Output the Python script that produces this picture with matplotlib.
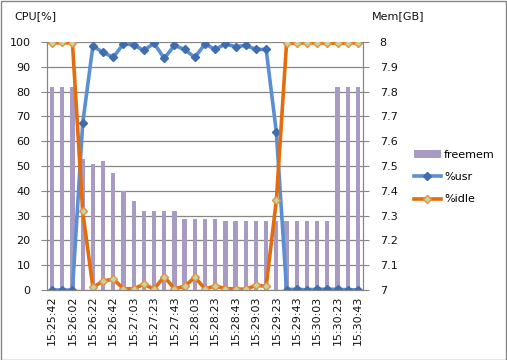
import numpy as np
import matplotlib
matplotlib.use("Agg")
import matplotlib.pyplot as plt
from matplotlib.ticker import FuncFormatter

# Datos (lectura aproximada del gráfico)
horas = ["15:25:42", "15:25:52", "15:26:02", "15:26:12", "15:26:22", "15:26:32",
         "15:26:42", "15:26:53", "15:27:03", "15:27:13", "15:27:23", "15:27:33",
         "15:27:43", "15:27:53", "15:28:03", "15:28:13", "15:28:23", "15:28:33",
         "15:28:43", "15:28:53", "15:29:03", "15:29:13", "15:29:23", "15:29:33",
         "15:29:43", "15:29:53", "15:30:03", "15:30:13", "15:30:23", "15:30:33",
         "15:30:43"]

freemem = [7.82, 7.82, 7.82, 7.53, 7.51, 7.52, 7.47, 7.40, 7.36, 7.32, 7.32, 7.32,
           7.32, 7.285, 7.285, 7.285, 7.285, 7.28, 7.28, 7.28, 7.28, 7.28, 7.28,
           7.28, 7.28, 7.28, 7.28, 7.28, 7.82, 7.82, 7.82]

usr = [0, 0, 0, 67.2, 98.4, 95.8, 93.8, 99.3, 98.8, 96.6, 99.5, 93.4, 98.6, 97.0,
       93.8, 99.2, 97.0, 99.2, 98.1, 98.6, 97.0, 97.0, 63.6, 0.2, 0.3, 0.1, 0.3,
       0.3, 0.3, 0.1, 0.1]

idle = [99.5, 99.8, 99.5, 31.7, 1.1, 3.6, 4.4, 0.5, 0.5, 2.3, 0.4, 5.4, 0.5, 1.5,
        5.1, 0.5, 1.6, 0.6, 0.4, 0.3, 1.9, 1.5, 36.2, 99.5, 99.6, 99.7, 99.6,
        99.6, 99.5, 99.6, 99.7]

x = np.arange(len(horas))
gris = "#868686"
texto = "#111111"
fs = 8

fig = plt.figure(figsize=(5.07, 3.60), dpi=100)
ax = fig.add_axes([47 / 507, 1 - 290 / 360, (363 - 47) / 507, (290 - 42) / 360])
ax2 = ax.twinx()

# barras en el eje secundario (detrás), líneas en el principal (delante)
ax.set_zorder(ax2.get_zorder() + 1)
ax.patch.set_visible(False)

ax2.set_ylim(7, 8)
ax2.set_yticks(np.round(np.arange(7, 8.01, 0.1), 1))
ax2.yaxis.set_major_formatter(FuncFormatter(lambda v, p: f"{v:g}"))
ax2.grid(axis="y", color=gris, linewidth=0.9)
ax2.set_axisbelow(True)
ax2.bar(x, freemem, width=0.42, bottom=0, color="#A79BC3", label="freemem",
        zorder=2)
ax2.set_ylim(7, 8)

ax.plot(x, usr, color="#5B8FD4", linewidth=2.6, marker="D", markersize=4.5,
        markerfacecolor="#3E6DB0", markeredgecolor="#3E6DB0", label="%usr")
ax.plot(x, idle, color="#E46C0A", linewidth=2.6, marker="D", markersize=4.5,
        markerfacecolor="#C3D69B", markeredgecolor="#E4904A", label="%idle")

ax.set_ylim(0, 100)
ax.set_yticks(np.arange(0, 101, 10))
ax.set_xlim(-0.5, len(horas) - 0.5)
ax.set_xticks(x[::2])
ax.set_xticklabels(horas[::2], rotation=90, fontsize=fs, color=texto)
ax.tick_params(axis="x", length=0, pad=4)
ax.tick_params(axis="y", labelsize=fs, labelcolor=texto, color=gris,
               length=4, pad=8)
ax2.tick_params(axis="y", labelsize=fs, labelcolor=texto, color=gris,
                length=4, pad=8)

for a in (ax, ax2):
    for lado in ("left", "right", "bottom"):
        a.spines[lado].set_color(gris)
    a.spines["top"].set_visible(False)

fig.text(14 / 507, 1 - 16 / 360, "CPU[%]", fontsize=fs, color=texto, va="center")
fig.text(372 / 507, 1 - 16 / 360, "Mem[GB]", fontsize=fs, color=texto, va="center")

h1, l1 = ax2.get_legend_handles_labels()
h2, l2 = ax.get_legend_handles_labels()
fig.legend(h1 + h2, l1 + l2, loc="upper left", bbox_to_anchor=(404 / 507, 1 - 140 / 360),
           frameon=False, fontsize=fs, handlelength=2.4, labelspacing=1.1,
           handletextpad=0.3, markerscale=0.8)

# borde del gráfico
fig.patches.append(plt.Rectangle((0.001, 0.001), 0.997, 0.996, transform=fig.transFigure,
                                 fill=False, edgecolor=gris, linewidth=1))

fig.savefig("out.png", dpi=100)
